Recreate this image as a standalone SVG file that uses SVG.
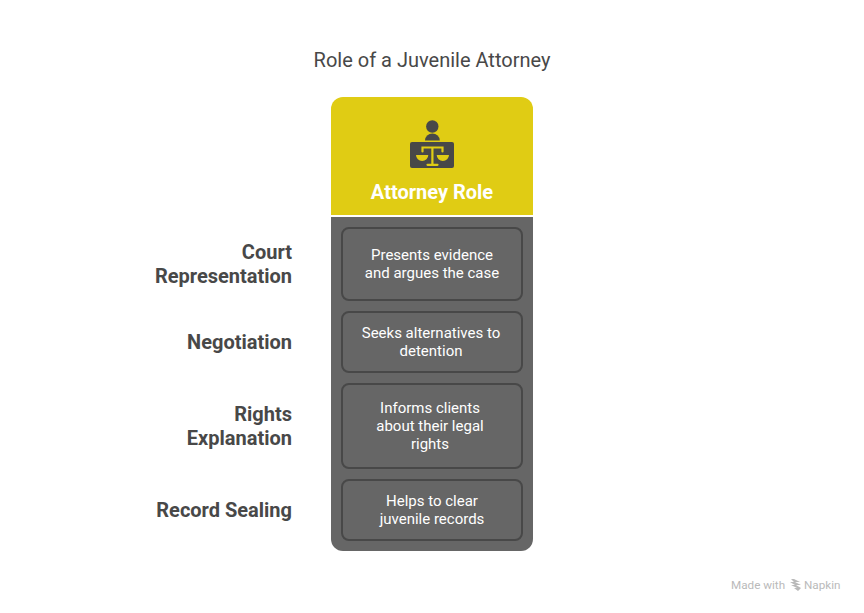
<svg xmlns="http://www.w3.org/2000/svg" width="864" height="613" viewBox="0 0 864 613">
<style>
text{font-family:Roboto,"Liberation Sans",sans-serif}
.t{font-size:20px;fill:#484848;text-anchor:middle}
.l{font-size:20px;font-weight:700;fill:#484848;text-anchor:end}
.b{font-size:15px;font-weight:450;fill:#fff;text-anchor:middle}
.c{fill:#666;stroke:#484848;stroke-width:2}
.w{font-size:11.700px;fill:#bababa}
</style>
<rect width="864" height="613" fill="#fff"/>
<text class="t" x="432" y="67">Role of a Juvenile Attorney</text>
<g id="header">
<path d="M331 215V109a12 12 0 0 1 12-12H521a12 12 0 0 1 12 12V215Z" fill="#e0cc14"/>
<circle cx="432.300" cy="126.500" r="6.200" fill="#484848"/>
<path d="M425 140.500a7.400 7 0 0 1 14.800 0Z" fill="#484848"/>
<rect x="410" y="142" width="44" height="26" rx="2" fill="#484848"/>
<path d="M422.500 151.500V147.500H442.500V151.500M432.400 147.500V164.500M427.500 164.800H437.500" fill="none" stroke="#e0cc14" stroke-width="2.200" stroke-linecap="round"/>
<path d="M416 155h12.300a6.150 6 0 0 1-12.300 0ZM436.700 155h12.300a6.150 6 0 0 1-12.300 0Z" fill="#e0cc14"/>
<text x="432" y="199" font-size="20" font-weight="700" fill="#fff" text-anchor="middle">Attorney Role</text>
</g>
<g id="body">
<path d="M331 217H533V539a12 12 0 0 1-12 12H343a12 12 0 0 1-12-12Z" fill="#666"/>
</g>
<g id="item1">
<rect class="c" x="342" y="228" width="180" height="72" rx="7"/>
<text class="b"><tspan x="432" y="260">Presents evidence</tspan><tspan x="432" y="278">and argues the case</tspan></text>
<text class="l"><tspan x="292" y="259">Court</tspan><tspan x="292" y="283">Representation</tspan></text>
</g>
<g id="item2">
<rect class="c" x="342" y="312" width="180" height="60" rx="7"/>
<text class="b"><tspan x="431" y="338">Seeks alternatives to</tspan><tspan x="431" y="356">detention</tspan></text>
<text class="l" x="292" y="349">Negotiation</text>
</g>
<g id="item3">
<rect class="c" x="342" y="384" width="180" height="84" rx="7"/>
<text class="b"><tspan x="430" y="413">Informs clients</tspan><tspan x="430" y="431">about their legal</tspan><tspan x="430" y="449">rights</tspan></text>
<text class="l"><tspan x="292" y="421">Rights</tspan><tspan x="292" y="445">Explanation</tspan></text>
</g>
<g id="item4">
<rect class="c" x="342" y="480" width="180" height="60" rx="7"/>
<text class="b"><tspan x="432" y="506">Helps to clear</tspan><tspan x="432" y="524">juvenile records</tspan></text>
<text class="l" x="292" y="517">Record Sealing</text>
</g>
<g id="watermark">
<text class="w" x="731" y="589">Made with</text>
<path d="M791 579l3 0 6 3-5 0 6 3-5 0 5 3-3 3-4-3 3 0-6-3 4 0-5-3 4 0Z" fill="#bababa"/>
<text class="w" x="804" y="589">Napkin</text>
</g>
</svg>
